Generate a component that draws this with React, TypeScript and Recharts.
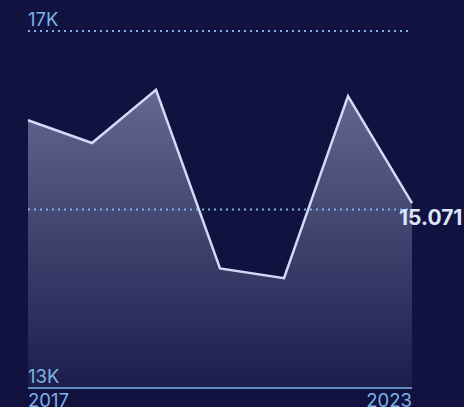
import React from 'react';
import { AreaChart, Area, XAxis, YAxis, ReferenceLine } from 'recharts';

const years = ['2017', '2018', '2019', '2020', '2021', '2022', '2023'];
const values = [16000, 15745, 16340, 14340, 14230, 16270, 15071];
const yTicks = [13000, 17000];
const xTicks = ['2017', '2023'];
const gridValues = [15000, 17000];

const data = years.map((year, i) => ({ year, value: values[i] }));

const AXIS_COLOR = '#7db3e8';
const FONT = 'Inter, "Noto Sans", sans-serif';

const YTick = (props: any) => {
  const { x, y, payload } = props;
  return (
    <text x={x} y={y - 5} textAnchor="start" fill={AXIS_COLOR} fontSize={18.5} fontFamily={FONT}>
      {`${payload.value / 1000}K`}
    </text>
  );
};

const XTick = (props: any) => {
  const { x, y, payload, index } = props;
  const anchor = index === 0 ? 'start' : 'end';
  return (
    <text x={x} y={y + 19} textAnchor={anchor} fill={AXIS_COLOR} fontSize={18.5} fontFamily={FONT}>
      {payload.value}
    </text>
  );
};

const LastLabel = (props: any) => {
  const { x, y, index, value } = props;
  if (index !== values.length - 1) return null;
  return (
    <text x={x - 13} y={y + 22} textAnchor="start" fill="#dce6f7" fontSize={21} fontWeight={700} fontFamily={FONT}>
      {(value / 1000).toFixed(3)}
    </text>
  );
};

export default function App() {
  return (
    <div style={{ position: 'absolute', left: 0, top: 0, width: 464, height: 407, background: '#121240', overflow: 'hidden' }}>
      <AreaChart width={464} height={407} data={data} margin={{ top: 31, right: 52, bottom: 0, left: 28 }}>
        <defs>
          <linearGradient id="areaFill" x1="0" y1="0" x2="0" y2="1">
            <stop offset="0%" stopColor="#8a8fb8" stopOpacity={0.68} />
            <stop offset="100%" stopColor="#8a8fb8" stopOpacity={0.09} />
          </linearGradient>
        </defs>
        <XAxis
          dataKey="year"
          ticks={xTicks}
          interval={0}
          height={19}
          tickSize={0}
          tickMargin={0}
          tickLine={false}
          axisLine={{ stroke: AXIS_COLOR, strokeWidth: 1.5 }}
          tick={<XTick />}
        />
        <YAxis
          domain={[13000, 17000]}
          ticks={yTicks}
          interval={0}
          width={1}
          mirror
          tickSize={0}
          tickMargin={0}
          axisLine={false}
          tickLine={false}
          tick={<YTick />}
        />
        <Area
          type="linear"
          dataKey="value"
          stroke="#d0dcf5"
          strokeWidth={2.5}
          fill="url(#areaFill)"
          fillOpacity={1}
          baseValue={13000}
          isAnimationActive={false}
          dot={false}
          activeDot={false}
          label={<LastLabel />}
        />
        {gridValues.map((g) => (
          <ReferenceLine key={g} y={g} stroke={AXIS_COLOR} strokeWidth={2} strokeDasharray="2 4" />
        ))}
      </AreaChart>
    </div>
  );
}
